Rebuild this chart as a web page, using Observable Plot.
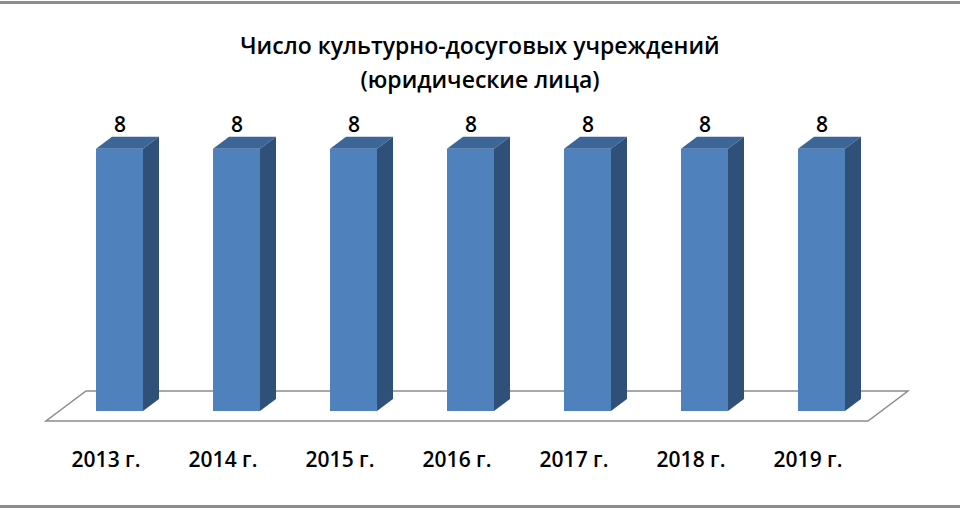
<!DOCTYPE html>
<html>
<head>
<meta charset="utf-8">
<script src="https://cdn.jsdelivr.net/npm/d3@7"></script>
<script src="https://cdn.jsdelivr.net/npm/@observablehq/plot@0.6"></script>
<style>
  html, body { margin: 0; padding: 0; background: #fff; }
  #wrap { position: relative; width: 960px; height: 510px; overflow: hidden; font-family: "Open Sans", sans-serif; }
  #frameTop { position: absolute; left: 0; top: 1px; width: 960px; height: 0; border-top: 3px solid #8c8c8c; }
  #frameBottom { position: absolute; left: 0; top: 505px; width: 960px; height: 0; border-top: 3px solid #8c8c8c; }
  #title { position: absolute; left: 0; top: 28px; width: 960px; text-align: center; font-weight: 600; font-size: 23px; line-height: 34px; color: #000; }
  #chart { position: absolute; left: 0; top: 100px; }
</style>
</head>
<body>
<div id="wrap">
  <div id="frameTop"></div>
  <div id="title">Число культурно-досуговых учреждений<br>(юридические лица)</div>
  <div id="chart"></div>
  <div id="frameBottom"></div>
</div>
<script>
const years = ["2013 г.", "2014 г.", "2015 г.", "2016 г.", "2017 г.", "2018 г.", "2019 г."];
const counts = [8, 8, 8, 8, 8, 8, 8];

const data = years.map((year, i) => ({year, count: counts[i]}));

const DX = 16, DY = -12;          // bar depth (px)
const FX0 = -13, FY0 = 10;        // floor front offset
const FX1 = 27, FY1 = -20;        // floor back offset

// custom 3D faces drawn using Plot's scales
function faces(index, scales, values, dims) {
  const g = d3.create("svg:g");
  const bw = scales.x.bandwidth();
  for (const i of index) {
    const d = data[i];
    const x0 = scales.x(d.year), x1 = x0 + bw;
    const yt = scales.y(d.count), yb = scales.y(0);
    g.append("path")
      .attr("d", `M${x0},${yt}L${x0 + DX},${yt + DY}L${x1 + DX},${yt + DY}L${x1},${yt}Z`)
      .attr("fill", "#3c6598");
    g.append("path")
      .attr("d", `M${x1},${yt}L${x1 + DX},${yt + DY}L${x1 + DX},${yb + DY}L${x1},${yb}Z`)
      .attr("fill", "#2f5179");
  }
  return g.node();
}

function floor(index, scales, values, dims) {
  const [r0, r1] = scales.x.range();
  const y0 = scales.y(0);
  const g = d3.create("svg:g");
  g.append("path")
    .attr("d", `M${r0 + FX0},${y0 + FY0}L${r1 + FX0},${y0 + FY0}L${r1 + FX1},${y0 + FY1}L${r0 + FX1},${y0 + FY1}Z`)
    .attr("fill", "none")
    .attr("stroke", "#8c8c8c")
    .attr("stroke-width", 1.5);
  return g.node();
}

const plot = Plot.plot({
  width: 960,
  height: 410,
  marginLeft: 59,
  marginRight: 79,
  marginTop: 16,
  marginBottom: 99,
  x: {domain: years, paddingInner: 0.6, paddingOuter: 0.3, axis: null},
  y: {domain: [0, 9], axis: null},
  style: {fontFamily: "Open Sans, sans-serif", background: "transparent"},
  marks: [
    Plot.barY(data, {x: "year", y: "count", render: floor}),
    Plot.barY(data, {x: "year", y: "count", fill: "#4f81bd"}),
    Plot.barY(data, {x: "year", y: "count", render: faces}),
    Plot.text(data, {x: "year", y: "count", text: d => String(d.count), dy: -24, dx: 0,
      fontSize: 21, fontWeight: 600, fill: "#000", lineAnchor: "middle"}),
    Plot.text(data, {x: "year", y: 0, text: "year", dx: -14, dy: 49,
      fontSize: 21, fontWeight: 600, fill: "#000", lineAnchor: "middle"})
  ]
});
document.getElementById("chart").appendChild(plot);
</script>
</body>
</html>
